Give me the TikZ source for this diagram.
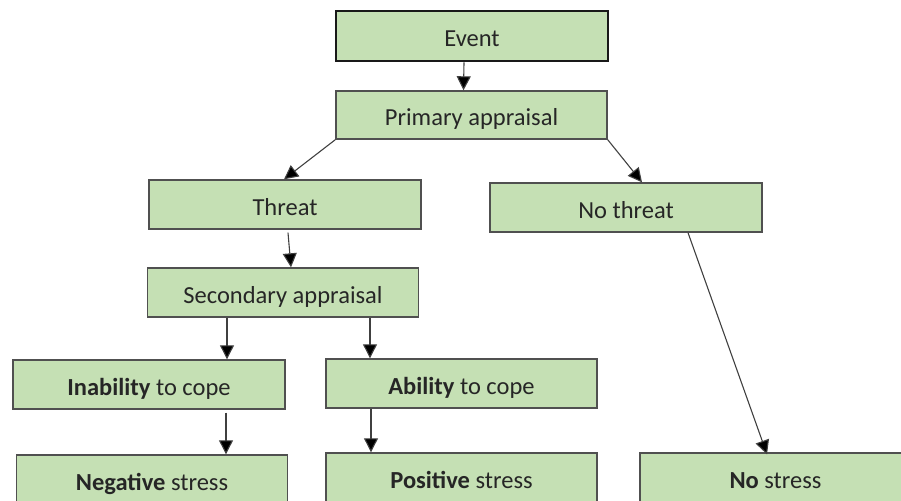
\documentclass[tikz,border=0pt]{standalone}
\usepackage{fontspec}
\setmainfont{Carlito}
\usetikzlibrary{arrows.meta}
\definecolor{boxgreen}{HTML}{C5E0B4}
\definecolor{boxline}{HTML}{505050}
\definecolor{arrline}{HTML}{404040}
\begin{document}
\begin{tikzpicture}[x=1pt,y=-1pt,
  box/.style={draw=boxline,line width=1.4pt,fill=boxgreen,minimum width=271pt,minimum height=49pt,inner sep=0pt,
    text height=21pt,text depth=0pt,
    font=\fontsize{24.5}{28}\selectfont,text=black!85},
  arr/.style={draw=arrline,line width=1.1pt,-{Triangle[length=14pt,width=14pt,fill=black]}}]
\useasboundingbox (0,0) rectangle (901,500);
\clip (0,0) rectangle (901,500);
\node[box,line width=2.6pt,draw=black!90,minimum width=272pt,minimum height=50pt] (event) at (472,36) {Event};
\node[box,minimum height=48pt] (prim) at (471.5,115) {Primary appraisal};
\node[box,minimum width=272pt] (threat) at (285,204.5) {Threat};
\node[box,minimum width=272pt] (nothreat) at (626,207.5) {No threat};
\node[box] (sec) at (283,292.5) {Secondary appraisal};
\node[box,minimum width=272pt] (inab) at (149,384.5) {\textbf{Inability} to cope};
\node[box] (ab) at (461.5,383.5) {\textbf{Ability} to cope};
\node[box] (neg) at (152,479.5) {\textbf{Negative} stress};
\node[box] (pos) at (461.5,477.5) {\textbf{Positive} stress};
\node[box] (nostress) at (775.5,477.5) {\textbf{No} stress};
\draw[arr] ([xshift=-8pt]event.south) -- ([xshift=-8pt]prim.north);
\draw[arr] (prim.south west) -- ([xshift=-1pt]threat.north);
\draw[arr] (prim.south east) -- ([xshift=16pt]nothreat.north);
\draw[arr] ([xshift=3pt,yshift=-3pt]threat.south) -- ([xshift=8pt]sec.north);
\draw[arr] ([xshift=-56pt]sec.south) -- ([xshift=78pt]inab.north);
\draw[arr] ([xshift=87pt]sec.south) -- ([xshift=-91.5pt]ab.north);
\draw[arr] ([xshift=77pt,yshift=-3pt]inab.south) -- ([xshift=74pt]neg.north);
\draw[arr] ([xshift=-90.5pt]ab.south) -- ([xshift=-90.5pt]pos.north);
\draw[arr] ([xshift=62pt]nothreat.south) -- ([xshift=-8.5pt,yshift=-2pt]nostress.north);
\end{tikzpicture}
\end{document}
